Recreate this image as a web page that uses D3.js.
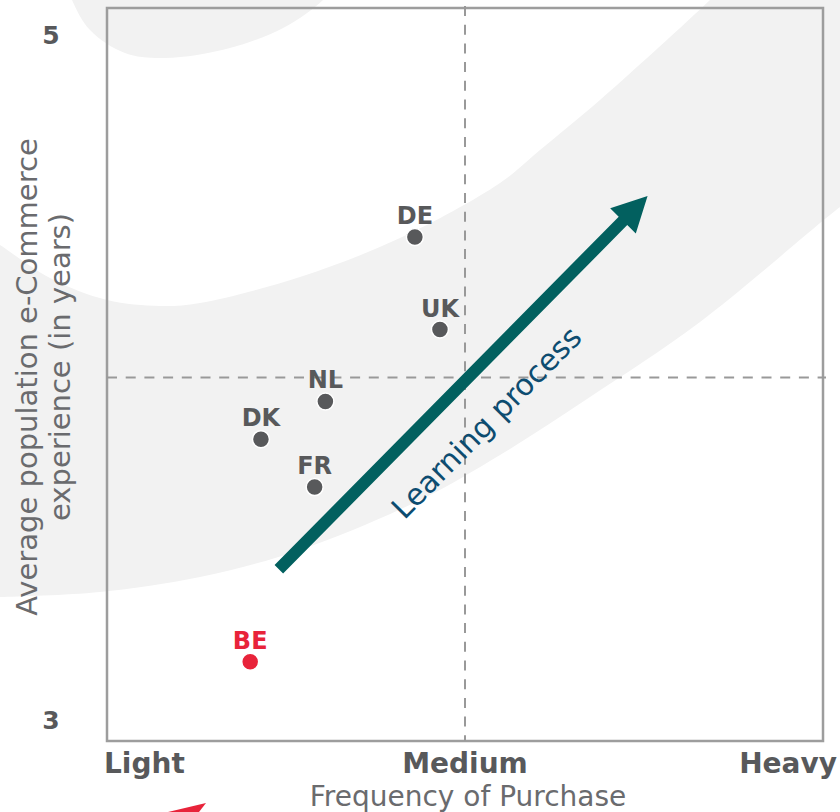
<!DOCTYPE html>
<html>
<head>
<meta charset="utf-8">
<script src="https://cdn.jsdelivr.net/npm/d3@7"></script>
<style>
  body { margin: 0; background: #fff; }
  svg { display: block; }
</style>
</head>
<body>
<svg></svg>
<script>
// country positions: frequency of purchase (1 = Light, 2 = Medium, 3 = Heavy) and e-commerce experience (years)
const countries  = ["DE", "UK", "NL", "DK", "FR", "BE"];
const frequency  = [1.86, 1.93, 1.61, 1.43, 1.58, 1.40];
const experience = [4.41, 4.14, 3.93, 3.82, 3.68, 3.17];
const highlighted = ["BE"];

const freqTicks  = [1, 2, 3];
const freqLabels = ["Light", "Medium", "Heavy"];
const expTicks   = [3, 5];

// "Learning process" arrow, in data units [frequency, experience]
const arrowFrom = [1.48, 3.44];
const arrowTo   = [2.51, 4.53];

const W = 840, H = 812;
const svg = d3.select("svg").attr("width", W).attr("height", H);

const x = d3.scaleLinear().domain([1, 3]).range([107, 823]);
const y = d3.scaleLinear().domain([3, 5]).range([720, 35]);
const frameTop = 8, frameBottom = 741;

const grey = "#58595b";
const red = "#e8233a";

// background swoosh
const bg = svg.append("g");
const curve = d3.line().curve(d3.curveCatmullRom);
const inner = [[-10, 239], [0, 245], [50, 278], [107, 300], [160, 306], [200, 303], [300, 277],
               [400, 238], [500, 183], [540, 150], [600, 100], [710, 0], [730, -20]];
const outer = [[860, 193], [840, 207], [700, 322], [590, 397], [500, 455], [420, 500],
               [300, 550], [200, 577], [100, 592], [0, 597], [-10, 597]];
bg.append("path")
  .attr("d", curve(inner) + "L860,-20" + curve(outer).replace("M", "L") + "Z")
  .attr("fill", "#f2f2f2");
const blob = [[66, -20], [72, 0], [90, 30], [125, 53], [165, 58], [230, 48], [285, 27], [323, 0], [340, -20]];
bg.append("path").attr("d", curve(blob) + "Z").attr("fill", "#f2f2f2");
bg.append("path").attr("d", "M168,812 L206,803 L199,812 Z").attr("fill", red);

// frame
svg.append("rect")
  .attr("x", x(1)).attr("y", frameTop)
  .attr("width", x(3) - x(1)).attr("height", frameBottom - frameTop)
  .attr("fill", "none").attr("stroke", "#9d9d9d").attr("stroke-width", 2.5);

// quadrant dividers
svg.append("line")
  .attr("x1", x(2)).attr("x2", x(2)).attr("y1", frameTop - 2).attr("y2", frameBottom)
  .attr("stroke", "#999").attr("stroke-width", 2).attr("stroke-dasharray", "10,8.7");
svg.append("line")
  .attr("x1", x(1)).attr("x2", x(3) + 3).attr("y1", y(4)).attr("y2", y(4))
  .attr("stroke", "#999").attr("stroke-width", 2).attr("stroke-dasharray", "10,8.7");

// tick labels
svg.selectAll(".ytick").data(expTicks).enter().append("text")
  .attr("x", 51).attr("y", d => y(d) + 9)
  .attr("text-anchor", "middle")
  .style("font", "bold 25px 'DejaVu Sans'").attr("fill", grey)
  .text(d => d);

const anchors = ["start", "middle", "end"];
const shifts = [-3, 0, 14];
svg.selectAll(".xtick").data(freqTicks).enter().append("text")
  .attr("x", (d, i) => x(d) + shifts[i]).attr("y", 773)
  .attr("text-anchor", (d, i) => anchors[i])
  .style("font", "bold 28px 'DejaVu Sans'").attr("fill", grey)
  .text((d, i) => freqLabels[i]);

// axis titles
svg.append("text")
  .attr("x", x(2) + 3).attr("y", 806).attr("text-anchor", "middle")
  .style("font", "28px 'DejaVu Sans'").attr("fill", "#6a6b6e")
  .text("Frequency of Purchase");

const yTitle = svg.append("g").style("font", "29px 'DejaVu Sans'").attr("fill", "#6a6b6e");
yTitle.append("text")
  .attr("transform", "translate(37,377) rotate(-90)").attr("text-anchor", "middle")
  .text("Average population e-Commerce");
yTitle.append("text")
  .attr("transform", "translate(70,367) rotate(-90)").attr("text-anchor", "middle")
  .text("experience (in years)");

// learning process arrow
const p0 = [x(arrowFrom[0]), y(arrowFrom[1])];
const p1 = [x(arrowTo[0]), y(arrowTo[1])];
const len = Math.hypot(p1[0] - p0[0], p1[1] - p0[1]);
const u = [(p1[0] - p0[0]) / len, (p1[1] - p0[1]) / len];
const n = [-u[1], u[0]];
const headLen = 35, headHalf = 18, shaftHalf = 6;
const base = [p1[0] - u[0] * headLen, p1[1] - u[1] * headLen];
const pt = (p, k) => [p[0] + n[0] * k, p[1] + n[1] * k];
svg.append("path")
  .attr("d", d3.line()([pt(p0, shaftHalf), pt(base, shaftHalf), pt(base, headHalf), p1,
                        pt(base, -headHalf), pt(base, -shaftHalf), pt(p0, -shaftHalf)]) + "Z")
  .attr("fill", "#02605f");

const mid = [(p0[0] + p1[0]) / 2, (p0[1] + p1[1]) / 2];
const ang = Math.atan2(p1[1] - p0[1], p1[0] - p0[0]) * 180 / Math.PI;
svg.append("text")
  .attr("transform", `translate(${mid[0]},${mid[1]}) rotate(${ang})`)
  .attr("x", -12).attr("y", 55).attr("text-anchor", "middle")
  .style("font", "30px 'DejaVu Sans'").attr("fill", "#0d4c70")
  .text("Learning process");

// countries
const pts = countries.map((c, i) => ({ c, fx: frequency[i], ey: experience[i] }));
const colour = d => highlighted.includes(d.c) ? red : grey;
const g = svg.append("g");
g.selectAll("circle").data(pts).enter().append("circle")
  .attr("cx", d => x(d.fx)).attr("cy", d => y(d.ey)).attr("r", 8.5)
  .attr("fill", colour).attr("stroke", "#fff").attr("stroke-width", 1.5);
g.selectAll("text").data(pts).enter().append("text")
  .attr("x", d => x(d.fx)).attr("y", d => y(d.ey) - 13)
  .attr("text-anchor", "middle")
  .style("font", "bold 24px 'DejaVu Sans'").attr("fill", colour)
  .text(d => d.c);
</script>
</body>
</html>
